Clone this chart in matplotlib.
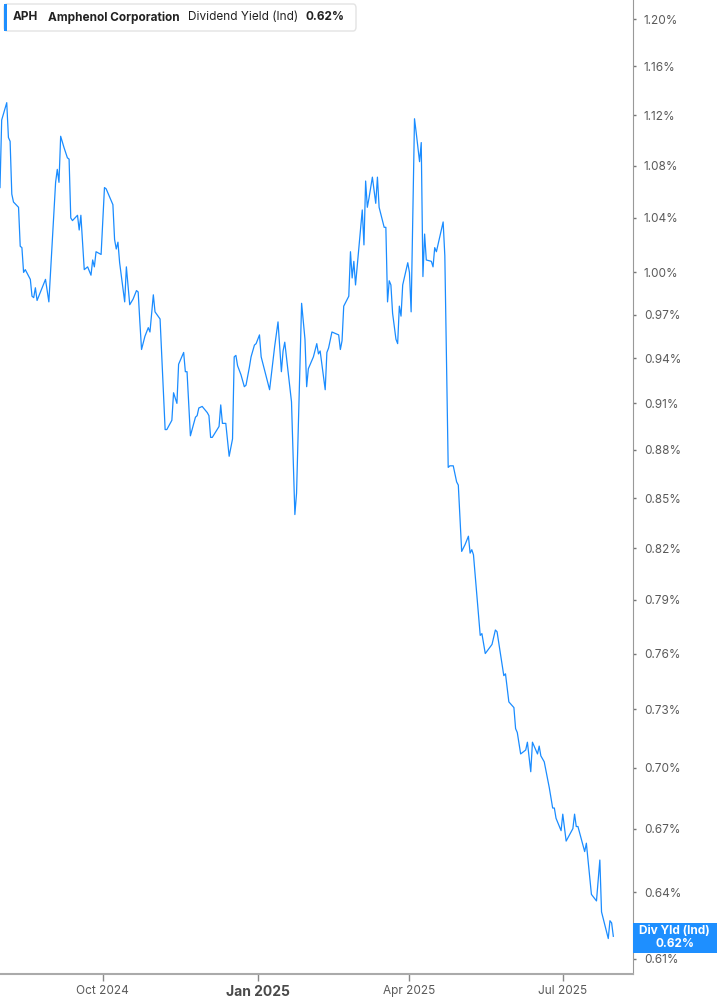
import numpy as np
import pandas as pd
import matplotlib
matplotlib.use("Agg")
import matplotlib.pyplot as plt
import matplotlib.dates as mdates
from matplotlib.patches import FancyBboxPatch, Rectangle
from matplotlib.ticker import FixedLocator, NullLocator, FuncFormatter

# ==============================================================================
# DATA (days since start_date, dividend yield in %)
# ==============================================================================
start_date = "2024-08-01"

day_offsets = [
    0, 1, 4, 5, 6, 7, 8, 11, 12, 13, 14, 15, 18, 19, 20, 21, 22, 24, 27, 29,
    31, 33, 34, 35, 36, 38, 40, 41, 42, 43, 46, 47, 48, 50, 52, 54, 55, 56, 57, 60,
    62, 63, 65, 67, 68, 69, 70, 71, 74, 75, 77, 79, 81, 82, 83, 84, 86, 88, 89, 91,
    92, 95, 98, 99, 102, 103, 105, 106, 109, 110, 111, 113, 116, 117, 118, 120, 123, 124, 125, 126,
    130, 131, 132, 134, 136, 138, 139, 140, 141, 143, 145, 146, 148, 149, 151, 152, 154, 155, 160, 163,
    165, 167, 168, 169, 173, 175, 176, 179, 181, 182, 183, 186, 188, 189, 190, 193, 194, 195, 197, 201,
    202, 203, 204, 207, 208, 209, 210, 211, 213, 215, 216, 217, 218, 219, 221, 223, 224, 225, 228, 229,
    230, 231, 232, 233, 235, 236, 237, 238, 239, 242, 243, 244, 246, 247, 249, 250, 251, 252, 253, 256,
    257, 258, 259, 263, 264, 266, 267, 269, 271, 272, 274, 276, 278, 279, 280, 281, 285, 286, 288, 292,
    294, 295, 299, 300, 302, 305, 306, 307, 309, 312, 313, 315, 316, 319, 320, 321, 323, 326, 328, 329,
    330, 333, 334, 336, 340, 341, 342, 343, 347, 348, 351, 354, 356, 357, 361, 362, 363, 364,
]

div_yield = [
    1.063, 1.116, 1.130, 1.102, 1.099, 1.058, 1.052, 1.048, 1.019, 1.018, 1.000, 1.002, 0.995, 0.983, 0.982, 0.989, 0.980, 0.986, 0.995, 0.979,
    1.022, 1.067, 1.077, 1.067, 1.103, 1.094, 1.086, 1.085, 1.040, 1.038, 1.042, 1.031, 1.042, 1.002, 1.004, 0.998, 1.009, 1.004, 1.015, 1.013,
    1.063, 1.062, 1.056, 1.050, 1.024, 1.017, 1.022, 1.007, 0.979, 1.004, 0.977, 0.981, 0.987, 0.986, 0.965, 0.946, 0.955, 0.961, 0.958, 0.984,
    0.972, 0.967, 0.893, 0.893, 0.899, 0.917, 0.910, 0.936, 0.944, 0.931, 0.931, 0.889, 0.901, 0.902, 0.907, 0.908, 0.904, 0.902, 0.888, 0.888,
    0.895, 0.909, 0.897, 0.897, 0.876, 0.887, 0.941, 0.942, 0.935, 0.929, 0.921, 0.922, 0.934, 0.941, 0.949, 0.950, 0.956, 0.941, 0.919, 0.948,
    0.965, 0.931, 0.945, 0.951, 0.911, 0.840, 0.853, 0.978, 0.953, 0.921, 0.933, 0.941, 0.950, 0.943, 0.945, 0.919, 0.944, 0.947, 0.958, 0.956,
    0.946, 0.952, 0.976, 0.983, 1.015, 0.996, 1.008, 0.991, 1.018, 1.046, 1.020, 1.068, 1.048, 1.055, 1.071, 1.051, 1.071, 1.048, 1.033, 1.033,
    0.979, 0.994, 0.991, 0.971, 0.953, 0.950, 0.976, 0.969, 0.991, 1.007, 1.000, 0.972, 1.117, 1.106, 1.083, 1.098, 0.997, 1.028, 1.009, 1.008,
    1.004, 1.018, 1.015, 1.037, 1.012, 0.869, 0.870, 0.870, 0.860, 0.858, 0.818, 0.822, 0.827, 0.817, 0.819, 0.816, 0.770, 0.771, 0.760, 0.765,
    0.773, 0.772, 0.748, 0.749, 0.734, 0.731, 0.720, 0.718, 0.707, 0.709, 0.713, 0.698, 0.713, 0.707, 0.711, 0.706, 0.703, 0.690, 0.680, 0.680,
    0.675, 0.669, 0.677, 0.664, 0.670, 0.677, 0.671, 0.671, 0.659, 0.663, 0.639, 0.636, 0.655, 0.631, 0.619, 0.627, 0.626, 0.620,
]

y_ticks = [0.61, 0.64, 0.67, 0.70, 0.73, 0.76, 0.79, 0.82, 0.85, 0.88, 0.91, 0.94, 0.97, 1.00, 1.04, 1.08, 1.12, 1.16, 1.20]
x_ticks = ["2024-10-01", "2025-01-01", "2025-04-01", "2025-07-01"]
x_labels = ["Oct 2024", "Jan 2025", "Apr 2025", "Jul 2025"]

ticker = "APH"
company = "Amphenol Corporation"
metric = "Dividend Yield (Ind)"
last_label = "0.62%"

# ==============================================================================
# PLOT
# ==============================================================================
plt.rcParams['font.family'] = ['Inter', 'DejaVu Sans']

W, H = 717, 1005
LINE = "#1a8cff"
GREY = "#5a5a5a"

dates = pd.Timestamp(start_date) + pd.to_timedelta(day_offsets, unit="D")

fig = plt.figure(figsize=(W / 100, H / 100), dpi=100)
ax = fig.add_axes([0, 31 / H, 632.7 / W, 974 / H])

ax.plot(dates, div_yield, color=LINE, lw=0.9)

ax.set_yscale("log")
ax.set_ylim(0.6034, 1.2167)
ax.set_xlim(pd.Timestamp(start_date), pd.Timestamp(start_date) + pd.Timedelta(days=375.5))

ax.yaxis.tick_right()
ax.yaxis.set_major_locator(FixedLocator(y_ticks))
ax.yaxis.set_minor_locator(NullLocator())
ax.yaxis.set_major_formatter(FuncFormatter(lambda v, p: f"{v:.2f}%"))
ax.tick_params(axis="y", length=2, width=1, color="#777777", pad=6, labelsize=8.5, labelcolor=GREY)

ax.set_xticks(pd.to_datetime(x_ticks))
ax.set_xticklabels(x_labels)
ax.xaxis.set_minor_locator(NullLocator())
ax.tick_params(axis="x", length=5, width=1, color="#888888", pad=3, labelsize=8.5, labelcolor=GREY)
for lbl in ax.get_xticklabels():
    if lbl.get_text() == "Jan 2025":
        lbl.set_fontweight("bold")
        lbl.set_fontsize(10)
        lbl.set_color("#4a4a4a")

for side in ["top", "left"]:
    ax.spines[side].set_visible(False)
ax.spines["right"].set_color("#999999")
ax.spines["bottom"].set_color("#aaaaaa")
ax.spines["bottom"].set_linewidth(1.5)

# last value badge on the right axis
fig.patches.append(Rectangle((632.7 / W, (H - 952.7) / H), 1 - 632.7 / W, 30 / H,
                             transform=fig.transFigure, facecolor="#1e8fff", edgecolor="none"))
fig.text((632.7 + W) / 2 / W, (H - 931) / H, "Div Yld (Ind)", color="white",
         fontsize=8.5, fontweight="bold", ha="center", va="center")
fig.text((632.7 + W) / 2 / W, (H - 944) / H, last_label, color="white",
         fontsize=8.5, fontweight="bold", ha="center", va="center")

# legend box at top left
fig.patches.append(FancyBboxPatch((4 / W, (H - 31) / H), 352 / W, 27 / H,
                                  boxstyle="round,pad=0,rounding_size=0.004",
                                  transform=fig.transFigure, facecolor="white",
                                  edgecolor="#e3e3e3", lw=1))
fig.patches.append(Rectangle((4 / W, (H - 31) / H), 3 / W, 27 / H,
                             transform=fig.transFigure, facecolor="#1e8fff", edgecolor="none"))
ty = (H - 17.5) / H
fig.text(13 / W, ty, ticker, fontsize=8.5, fontweight="bold", color="#222222", va="center")
fig.text(48 / W, ty, company, fontsize=8.5, fontweight="bold", color="#222222", va="center")
fig.text(188 / W, ty, metric, fontsize=8.5, color="#222222", va="center")
fig.text(305 / W, ty, last_label, fontsize=8.5, fontweight="bold", color="#222222", va="center")

fig.savefig("out.png", dpi=100)
